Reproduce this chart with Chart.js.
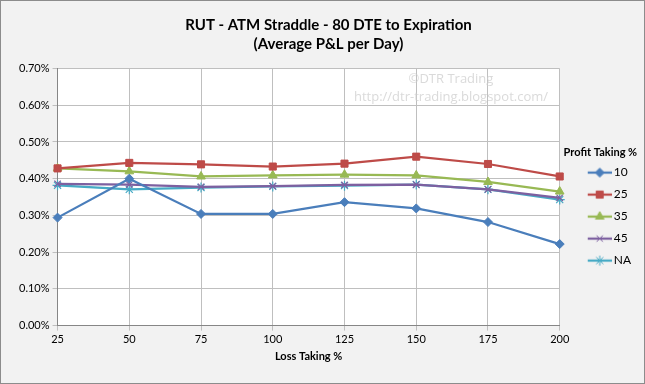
<!DOCTYPE html>
<html>
<head>
<meta charset="utf-8">
<script src="https://cdn.jsdelivr.net/npm/chart.js@4.4.0/dist/chart.umd.min.js"></script>
<style>
  html, body { margin: 0; padding: 0; background: #fff; }
  #wrap { width: 643px; height: 382px; border: 1px solid #8c8c8c; background: #f2f2f2; }
</style>
</head>
<body>
<div id="wrap"><canvas id="chart" width="643" height="382"></canvas></div>
<script>
// Loss taking % (x axis)
const lossTaking = ['25', '50', '75', '100', '125', '150', '175', '200'];

// Average P&L per day (%) for each profit taking level
const pt10 = [0.294, 0.400, 0.304, 0.304, 0.336, 0.319, 0.282, 0.222];
const pt25 = [0.428, 0.443, 0.439, 0.433, 0.441, 0.460, 0.440, 0.406];
const pt35 = [0.428, 0.420, 0.406, 0.409, 0.411, 0.409, 0.391, 0.365];
const pt45 = [0.386, 0.384, 0.378, 0.380, 0.383, 0.384, 0.371, 0.348];
const ptNA = [0.382, 0.371, 0.376, 0.379, 0.381, 0.384, 0.371, 0.343];

const yTicks = [0, 0.1, 0.2, 0.3, 0.4, 0.5, 0.6, 0.7];

const series = [
  { label: '10', data: pt10, color: '#4a7ebb', style: 'rectRot', r: 4.5 },
  { label: '25', data: pt25, color: '#be4b48', style: 'rect', r: 5 },
  { label: '35', data: pt35, color: '#98b954', style: 'triangle', r: 5 },
  { label: '45', data: pt45, color: '#7d60a0', style: 'crossRot', r: 4.5 },
  { label: 'NA', data: ptNA, color: '#46aac5', style: 'star', r: 5 }
];

// legend icon: a short line with the marker in the middle,
// left part of the canvas is left empty so the icon sits to the right
function legendIcon(s) {
  const c = document.createElement('canvas');
  c.width = 46; c.height = 12;
  const g = c.getContext('2d');
  g.strokeStyle = s.color;
  g.lineWidth = 2.25;
  g.beginPath(); g.moveTo(22, 6); g.lineTo(46, 6); g.stroke();
  g.fillStyle = s.color;
  g.lineWidth = 1;
  Chart.helpers.drawPoint(g, { pointStyle: s.style, radius: s.r, borderWidth: 1 }, 34, 6);
  return c;
}

const plotBg = {
  id: 'plotBg',
  afterLayout(chart) {
    // excel puts the legend a bit below the middle
    chart.legend.top += 26;
    chart.legend.bottom += 26;
  },
  beforeDraw(chart) {
    const { ctx, chartArea: a } = chart;
    ctx.save();
    ctx.fillStyle = '#ffffff';
    ctx.fillRect(a.left, a.top, a.right - a.left, a.bottom - a.top);
    ctx.restore();
  },
  afterDatasetsDraw(chart) {
    const { ctx } = chart;
    ctx.save();
    ctx.fillStyle = 'rgba(205,205,205,0.75)';
    ctx.font = '13px "Open Sans"';
    ctx.textAlign = 'center';
    ctx.fillText('\u00A9DTR Trading', 450, 82);
    ctx.fillText('http://dtr-trading.blogspot.com/', 450, 100);
    ctx.restore();
  }
};

new Chart(document.getElementById('chart'), {
  type: 'line',
  data: {
    labels: lossTaking,
    datasets: series.map(s => ({
      label: s.label,
      data: s.data,
      borderColor: s.color,
      backgroundColor: s.color,
      borderWidth: 2.25,
      pointStyle: s.style,
      pointRadius: s.r,
      pointBorderWidth: s.style === 'crossRot' || s.style === 'star' ? 1.2 : 1,
      pointBorderColor: s.color,
      tension: 0
    }))
  },
  options: {
    responsive: false,
    animation: false,
    layout: { padding: { left: 15, right: 3, top: 4, bottom: 16 } },
    plugins: {
      title: {
        display: true,
        text: ['RUT - ATM Straddle - 80 DTE to Expiration', '(Average P&L per Day)'],
        color: '#000',
        font: { family: 'Lato', size: 15, weight: 'bold', lineHeight: 1.25 },
        padding: { top: 11, bottom: 15 }
      },
      legend: {
        position: 'right',
        title: {
          display: true,
          text: 'Profit Taking %',
          color: '#000',
          font: { family: 'Lato', size: 11, weight: 'bold' },
          padding: { top: 0, bottom: -4 }
        },
        labels: {
          color: '#000',
          font: { family: 'Lato', size: 12 },
          usePointStyle: true,
          pointStyleWidth: 38,
          padding: 10,
          generateLabels(chart) {
            return series.map((s, i) => ({
              text: s.label,
              pointStyle: legendIcon(s),
              fillStyle: s.color,
              strokeStyle: s.color,
              lineWidth: 0,
              hidden: false,
              datasetIndex: i
            }));
          }
        }
      },
      tooltip: { enabled: false }
    },
    scales: {
      x: {
        offset: false,
        grid: { color: '#bfbfbf', tickLength: 5 },
        border: { color: '#868686' },
        ticks: { color: '#000', font: { family: 'Lato', size: 11 }, padding: 2 },
        title: {
          display: true,
          text: 'Loss Taking %',
          color: '#000',
          font: { family: 'Lato', size: 11, weight: 'bold' },
          padding: { top: 2 }
        }
      },
      y: {
        min: 0,
        max: 0.7,
        afterBuildTicks(axis) { axis.ticks = yTicks.map(v => ({ value: v })); },
        grid: { color: '#bfbfbf', tickLength: 5 },
        border: { color: '#868686' },
        ticks: {
          color: '#000',
          font: { family: 'Lato', size: 11 },
          callback: v => v.toFixed(2) + '%'
        }
      }
    }
  },
  plugins: [plotBg]
});
</script>
</body>
</html>
